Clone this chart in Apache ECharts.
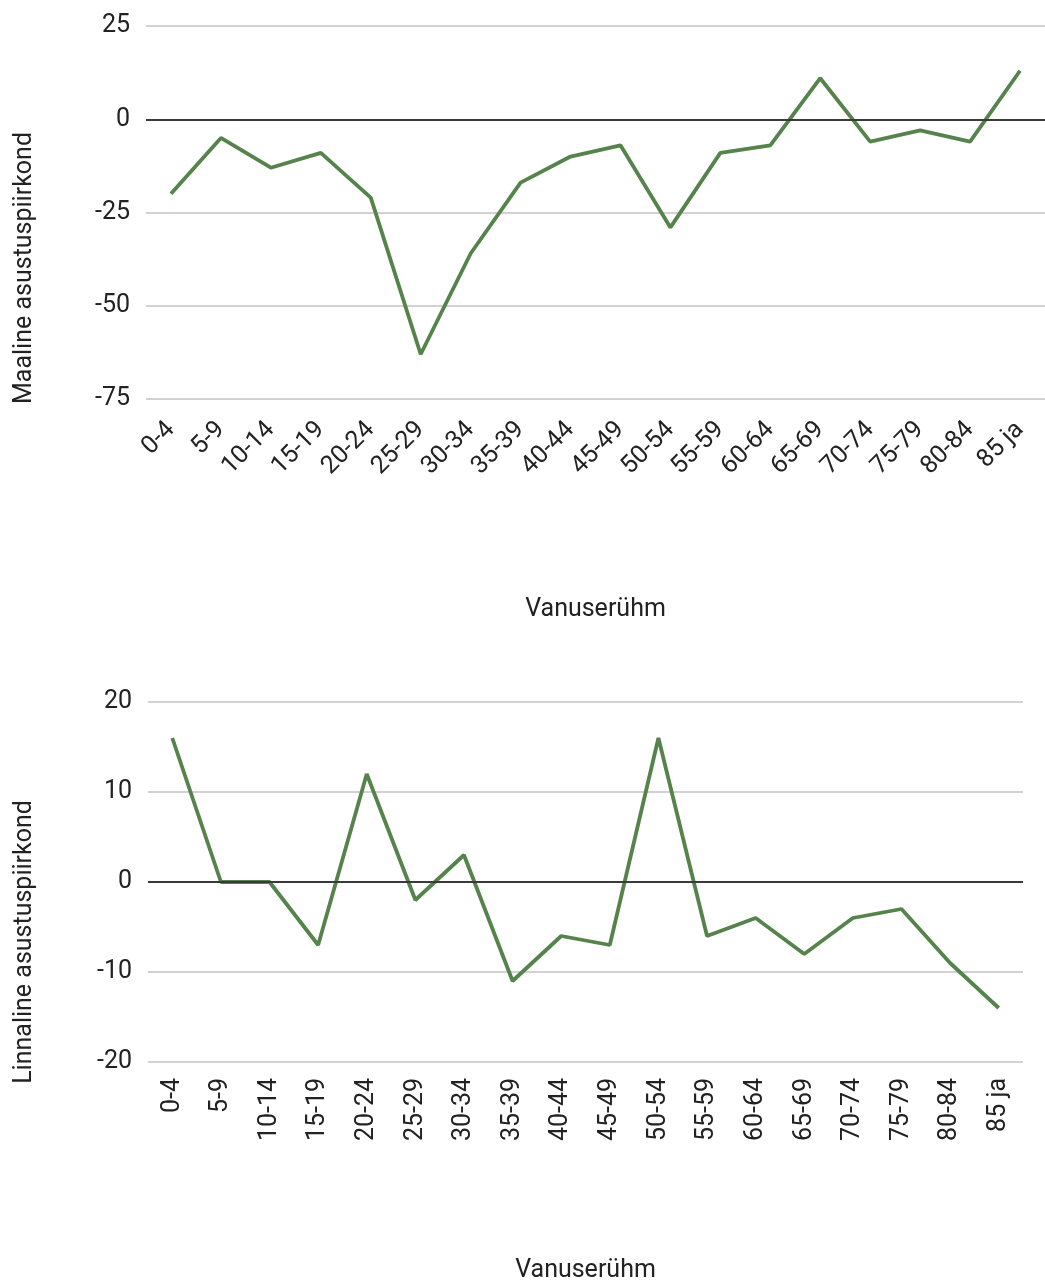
<!DOCTYPE html>
<html>
<head>
<meta charset="utf-8">
<script src="https://cdn.jsdelivr.net/npm/echarts@6/dist/echarts.min.js"></script>
<style>
html,body{margin:0;padding:0;background:#fff;}
#chart{width:1045px;height:1284px;}
</style>
</head>
<body>
<div id="chart"></div>
<script>
const categories = ["0-4","5-9","10-14","15-19","20-24","25-29","30-34","35-39","40-44","45-49","50-54","55-59","60-64","65-69","70-74","75-79","80-84","85 ja"];
const ruralValues = [-20,-5,-13,-9,-21,-63,-36,-17,-10,-7,-29,-9,-7,11,-6,-3,-6,13];
const urbanValues = [16,0,0,-7,12,-2,3,-11,-6,-7,16,-6,-4,-8,-4,-3,-9,-14];
const ruralTitle = "Maaline asustuspiirkond";
const urbanTitle = "Linnaline asustuspiirkond";
const xTitle = "Vanuserühm";

const FONT = "Roboto";
const FS = 25;
const textColor = "#222";
const lineColor = "#55834b";
const gridColor = "#d2d2d2";

const chart = echarts.init(document.getElementById('chart'), null, {renderer:'canvas'});

function yAxisCfg(idx, min, max, interval){
  return {
    type:'value', gridIndex:idx, min:min, max:max, interval:interval,
    axisLine:{show:false}, axisTick:{show:false},
    axisLabel:{color:textColor, fontFamily:FONT, fontSize:FS, margin:16},
    splitLine:{show:true, lineStyle:{color:gridColor, width:2}}
  };
}

const option = {
  animation:false,
  backgroundColor:'#fff',
  grid:[
    {left:146, top:26, width:900, height:373},
    {left:148, top:702, width:875, height:360}
  ],
  xAxis:[
    {type:'category', gridIndex:0, data:categories, boundaryGap:true,
     axisLine:{show:false}, axisTick:{show:false},
     axisLabel:{color:textColor, fontFamily:FONT, fontSize:FS, rotate:45, margin:27, interval:0},
     name:xTitle, nameLocation:'middle', nameGap:198,
     nameTextStyle:{color:textColor, fontFamily:FONT, fontSize:FS}},
    {type:'category', gridIndex:1, data:categories, boundaryGap:true,
     axisLine:{show:false}, axisTick:{show:false},
     axisLabel:{color:textColor, fontFamily:FONT, fontSize:FS, rotate:90, margin:16, interval:0},
     name:xTitle, nameLocation:'middle', nameGap:196,
     nameTextStyle:{color:textColor, fontFamily:FONT, fontSize:FS}}
  ],
  yAxis:[
    yAxisCfg(0,-75,25,25),
    yAxisCfg(1,-20,20,10)
  ],
  graphic:[
    {type:'text', rotation:Math.PI/2,
     style:{text:ruralTitle, fill:textColor, font:FS + 'px Roboto', textAlign:'center', textVerticalAlign:'middle'},
     x:25, y:268},
    {type:'text', rotation:Math.PI/2,
     style:{text:urbanTitle, fill:textColor, font:FS + 'px Roboto', textAlign:'center', textVerticalAlign:'middle'},
     x:25, y:942}
  ],
  series:[
    {type:'line', xAxisIndex:0, yAxisIndex:0, data:ruralValues, symbol:'none',
     lineStyle:{color:lineColor, width:3.8}, itemStyle:{color:lineColor},
     markLine:{silent:true, symbol:'none', label:{show:false},
       lineStyle:{color:'#3a3a3a', width:2, type:'solid'}, data:[{yAxis:0}]}},
    {type:'line', xAxisIndex:1, yAxisIndex:1, data:urbanValues, symbol:'none',
     lineStyle:{color:lineColor, width:3.8}, itemStyle:{color:lineColor},
     markLine:{silent:true, symbol:'none', label:{show:false},
       lineStyle:{color:'#3a3a3a', width:2, type:'solid'}, data:[{yAxis:0}]}}
  ]
};
chart.setOption(option);
</script>
</body>
</html>
